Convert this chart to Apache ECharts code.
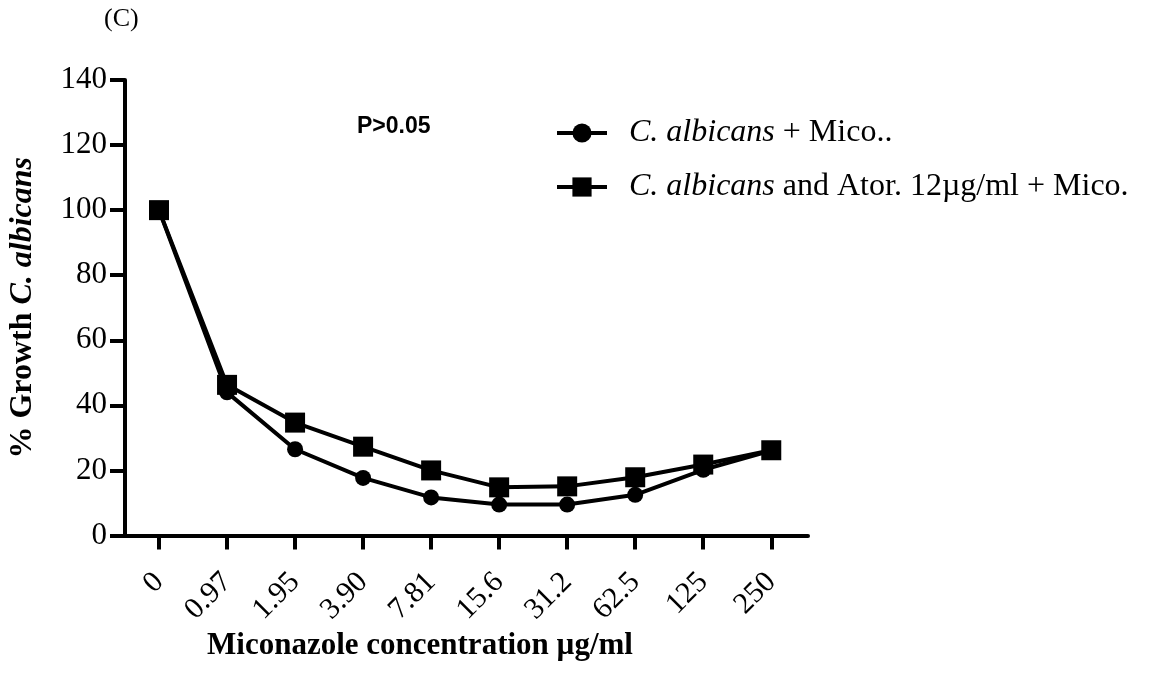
<!DOCTYPE html>
<html>
<head>
<meta charset="utf-8">
<script src="https://cdn.jsdelivr.net/npm/echarts@6/dist/echarts.min.js"></script>
<style>
  html, body { margin: 0; padding: 0; background: #fff; }
  #chart { width: 1162px; height: 676px; }
</style>
</head>
<body>
<div id="chart"></div>
<script>
// Miconazole concentrations (µg/ml) on the x axis
const concentrations = ['0', '0.97', '1.95', '3.90', '7.81', '15.6', '31.2', '62.5', '125', '250'];
// % growth of C. albicans with miconazole alone
const growthMico = [100, 44, 26.5, 17.7, 11.7, 9.5, 9.5, 12.5, 20.2, 26.1];
// % growth with atorvastatin 12 µg/ml + miconazole
const growthAtorMico = [100, 46.3, 34.7, 27.3, 20, 14.8, 15.1, 17.9, 21.8, 26.2];
// y-axis range and step
const yMin = 0, yMax = 140, yStep = 20;

const serif = '"Liberation Serif", "Times New Roman", serif';
const idx = concentrations.map((_, i) => i);
const toPoints = arr => arr.map((v, i) => [i, v]);

const chart = echarts.init(document.getElementById('chart'), null, { renderer: 'canvas' });

chart.setOption({
  animation: false,
  backgroundColor: '#ffffff',
  grid: { left: 125, top: 80, width: 683, height: 455.5, containLabel: false, outerBoundsMode: 'none' },
  xAxis: {
    type: 'value',
    min: -0.5,
    max: 9.54,
    splitLine: { show: false },
    axisLine: { onZero: false, lineStyle: { color: '#000', width: 4 } },
    axisTick: { customValues: idx, length: 14, lineStyle: { color: '#000', width: 4 } },
    axisLabel: {
      customValues: idx,
      formatter: v => concentrations[Math.round(v)],
      rotate: 45,
      margin: 42,
      color: '#000',
      fontFamily: serif,
      fontSize: 30
    }
  },
  yAxis: {
    type: 'value',
    min: yMin,
    max: yMax,
    interval: yStep,
    splitLine: { show: false },
    axisLine: { show: true, onZero: false, lineStyle: { color: '#000', width: 4 } },
    axisTick: { show: true, length: 15, lineStyle: { color: '#000', width: 4 } },
    axisLabel: { margin: 18, color: '#000', fontFamily: serif, fontSize: 31 },
    name: '{b|% Growth }{bi|C. albicans}',
    nameLocation: 'middle',
    nameRotate: 90,
    nameGap: 86,
    nameTextStyle: {
      rich: {
        b: { fontFamily: serif, fontSize: 32, fontWeight: 'bold', color: '#000' },
        bi: { fontFamily: serif, fontSize: 32, fontWeight: 'bold', fontStyle: 'italic', color: '#000' }
      }
    }
  },
  legend: {
    orient: 'vertical',
    left: 550,
    top: 112,
    itemWidth: 50,
    itemHeight: 24,
    itemGap: 22,
    lineStyle: { width: 4 },
    textStyle: {
      color: '#000',
      fontFamily: serif,
      fontSize: 32,
      rich: {
        s: { width: 17 },
        i: { fontFamily: serif, fontSize: 32, fontStyle: 'italic', color: '#000' },
        n: { fontFamily: serif, fontSize: 32, color: '#000' }
      }
    },
    formatter: name => name === 'mico'
      ? '{s|}{i|C. albicans}{n| + Mico..}'
      : '{s|}{i|C. albicans}{n| and Ator. 12\u00b5g/ml + Mico.}',
    data: ['mico', 'atorMico']
  },
  graphic: [
    {
      type: 'text', left: 104, top: 6,
      style: { text: '(C)', font: '26px ' + serif, fill: '#000' }
    },
    {
      type: 'text', left: 357, top: 115,
      style: { text: 'P>0.05', font: 'bold 23px "Liberation Sans", Arial, sans-serif', fill: '#000' }
    },
    {
      type: 'text', x: 420, y: 646,
      style: {
        text: 'Miconazole concentration \u00b5g/ml',
        font: 'bold 31px ' + serif,
        fill: '#000',
        align: 'center',
        verticalAlign: 'middle'
      }
    }
  ],
  series: [
    {
      name: 'mico',
      type: 'line',
      data: toPoints(growthMico),
      symbol: 'circle',
      symbolSize: 16,
      lineStyle: { color: '#000', width: 4 },
      itemStyle: { color: '#000' }
    },
    {
      name: 'atorMico',
      type: 'line',
      data: toPoints(growthAtorMico),
      symbol: 'rect',
      symbolSize: 20,
      lineStyle: { color: '#000', width: 4 },
      itemStyle: { color: '#000' }
    }
  ]
});
</script>
</body>
</html>
